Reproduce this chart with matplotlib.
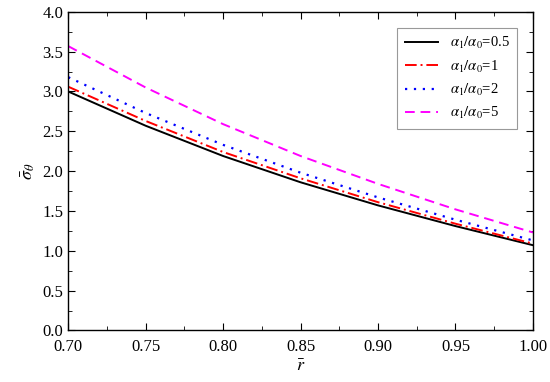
import numpy as np
import matplotlib.pyplot as plt

plt.rcParams['font.family'] = 'Liberation Serif'
plt.rcParams['mathtext.fontset'] = 'stix'

# Data
r = [0.70, 0.75, 0.80, 0.85, 0.90, 0.95, 1.00]
s_05 = [3.00, 2.57, 2.19, 1.86, 1.57, 1.31, 1.07]
s_1 = [3.06, 2.63, 2.24, 1.91, 1.61, 1.34, 1.09]
s_2 = [3.18, 2.73, 2.33, 1.98, 1.67, 1.39, 1.13]
s_5 = [3.57, 3.05, 2.59, 2.19, 1.84, 1.52, 1.23]
labels = [r'$\alpha_1/\alpha_0$=0.5', r'$\alpha_1/\alpha_0$=1',
          r'$\alpha_1/\alpha_0$=2', r'$\alpha_1/\alpha_0$=5']

fig = plt.figure(figsize=(5.5, 3.82), dpi=100)
ax = fig.add_axes([0.124, 0.135, 0.845, 0.834])

ax.plot(r, s_05, color='black', linestyle='-', lw=1.4, label=labels[0])
ax.plot(r, s_1, color='red', linestyle=(0, (6, 2, 1, 2)), lw=1.4, label=labels[1])
ax.plot(r, s_2, color='blue', linestyle=(0, (1, 3)), lw=1.6, label=labels[2])
ax.plot(r, s_5, color='magenta', linestyle=(0, (5, 3)), lw=1.4, label=labels[3])

ax.set_xlim(0.70, 1.00)
ax.set_ylim(0.0, 4.0)
ax.set_xticks(np.arange(0.70, 1.001, 0.05))
ax.set_xticks(np.arange(0.725, 1.0, 0.05), minor=True)
ax.set_yticks(np.arange(0.0, 4.01, 0.5))
ax.set_yticks(np.arange(0.25, 4.0, 0.5), minor=True)
ax.xaxis.set_major_formatter(plt.FormatStrFormatter('%.2f'))
ax.yaxis.set_major_formatter(plt.FormatStrFormatter('%.1f'))
ax.tick_params(which='both', direction='in', top=True, right=True, labelsize=12)
ax.tick_params(which='major', length=5)
ax.tick_params(which='minor', length=3)
ax.tick_params(axis='x', pad=6)
for sp in ax.spines.values():
    sp.set_linewidth(1.0)

ax.set_xlabel(r'$\bar{r}$', fontsize=13, labelpad=2)
ax.set_ylabel(r'$\bar{\sigma}_\theta$', fontsize=13)

leg = ax.legend(loc='upper right', fontsize=10.5, fancybox=False, edgecolor='gray',
                borderaxespad=1.1, handlelength=2.3, labelspacing=0.5,
                borderpad=0.5)
leg.get_frame().set_linewidth(0.8)

plt.savefig('out.png', dpi=100)
